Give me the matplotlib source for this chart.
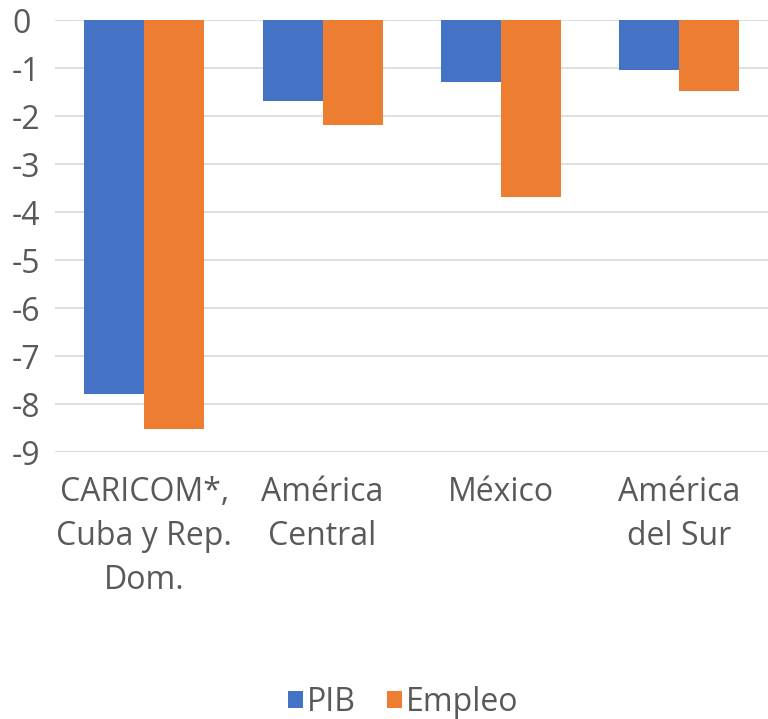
import matplotlib
matplotlib.use("Agg")
import matplotlib.pyplot as plt
import numpy as np

CATEGORIES = ["CARICOM*,\nCuba y Rep.\nDom.", "América\nCentral", "México", "América\ndel Sur"]
PIB = [-7.78, -1.68, -1.29, -1.04]
EMPLEO = [-8.52, -2.19, -3.69, -1.47]
SERIES_LABELS = ["PIB", "Empleo"]
COLORS = ["#4472C4", "#ED7D31"]
TEXT_COLOR = "#595959"

plt.rcParams["font.family"] = ["Open Sans", "DejaVu Sans"]

fig = plt.figure(figsize=(7.68, 7.19), dpi=100)
ax = fig.add_axes([0.072, 0.371, 0.928, 0.601])

x = np.arange(len(CATEGORIES))
width = 0.337
ax.bar(x - width / 2, PIB, width, color=COLORS[0], label=SERIES_LABELS[0], zorder=2)
ax.bar(x + width / 2, EMPLEO, width, color=COLORS[1], label=SERIES_LABELS[1], zorder=2)

ax.set_xlim(-0.5, len(CATEGORIES) - 0.5)
ax.set_ylim(-9, 0)
ax.set_yticks(np.arange(-9, 1, 1))
ax.set_yticklabels([str(v) for v in range(-9, 1)], ha="left")
ax.grid(axis="y", color="#D9D9D9", linewidth=1.2, zorder=0)
for spine in ax.spines.values():
    spine.set_visible(False)
ax.tick_params(length=0, labelsize=23, colors=TEXT_COLOR)
ax.tick_params(axis="y", pad=31)
ax.set_xticks(x)
ax.set_xticklabels(CATEGORIES, linespacing=1.45)
ax.tick_params(axis="x", pad=17)

fig.legend(loc="center", bbox_to_anchor=(0.525, 0.023), ncol=2, frameon=False,
           fontsize=23, labelcolor=TEXT_COLOR, handlelength=0.47, handleheight=0.47,
           handletextpad=0.12, columnspacing=0.95)

fig.savefig("out.png", dpi=100)
